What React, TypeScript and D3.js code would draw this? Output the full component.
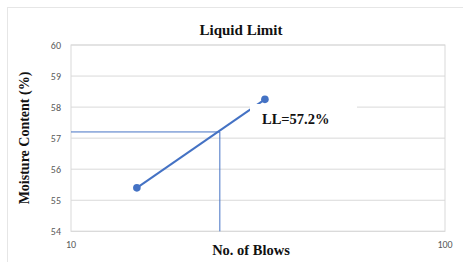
import React from "react";
import * as d3 from "d3";

const blows = [15, 33];
const moisture = [55.4, 58.25];
const yTicks = [54, 55, 56, 57, 58, 59, 60];
const xTicks = [10, 100];
const llBlows = [25];
const llValue = [57.2];
const llLabel = "LL=57.2%";

export default function App() {
  const W = 463, H = 262;
  const left = 71, right = 445, top = 45, bottom = 231.3;
  const x = d3.scaleLog().domain([10, 100]).range([left, right]);
  const y = d3.scaleLinear().domain([54, 60]).range([bottom, top]);
  const pts = blows.map((b, i) => [x(b), y(moisture[i])] as [number, number]);
  const line = d3.line()(pts) || "";
  const serif = "'Liberation Serif', 'Times New Roman', serif";
  const sans = "Calibri, 'Open Sans', 'Liberation Sans', sans-serif";
  const lx = x(llBlows[0]);
  const ly = y(llValue[0]);
  return (
    <svg width={W} height={H} style={{ position: "absolute", left: 0, top: 0, background: "#fff" }}>
      <rect x={7.5} y={7.5} width={470} height={270} fill="#fff" stroke="#e6e6e6" strokeWidth={1} />
      <text x={241} y={35} textAnchor="middle" fontFamily={serif} fontWeight="bold" fontSize={15} fill="#111">Liquid Limit</text>
      {yTicks.map((t) => (
        <g key={t}>
          <line x1={left} x2={right} y1={y(t)} y2={y(t)} stroke="#d9d9d9" strokeWidth={1} />
          <text x={61} y={y(t) + 3.5} textAnchor="end" fontFamily={sans} fontSize={10} fill="#595959">{t}</text>
        </g>
      ))}
      <rect x={left} y={top} width={right - left} height={bottom - top} fill="none" stroke="#d9d9d9" strokeWidth={1} />
      {xTicks.map((t) => (
        <text key={t} x={x(t)} y={248} textAnchor="middle" fontFamily={sans} fontSize={10} fill="#595959">{t}</text>
      ))}
      <line x1={left} x2={lx} y1={ly} y2={ly} stroke="#4472C4" strokeWidth={1} />
      <line x1={lx} x2={lx} y1={ly} y2={bottom} stroke="#4472C4" strokeWidth={1} />
      <path d={line} fill="none" stroke="#4472C4" strokeWidth={2} />
      {pts.map((p, i) => (
        <circle key={i} cx={p[0]} cy={p[1]} r={3.8} fill="#4472C4" />
      ))}
      <rect x={250} y={104} width={107} height={26} fill="#fff" />
      <text x={262} y={124} fontFamily={serif} fontWeight="bold" fontSize={14.5} fill="#111">{llLabel}</text>
      <text x={251} y={255} textAnchor="middle" fontFamily={serif} fontWeight="bold" fontSize={14.5} fill="#111">No. of Blows</text>
      <text transform={`translate(29,138) rotate(-90)`} textAnchor="middle" fontFamily={serif} fontWeight="bold" fontSize={14} fill="#111">Moisture Content (%)</text>
    </svg>
  );
}
